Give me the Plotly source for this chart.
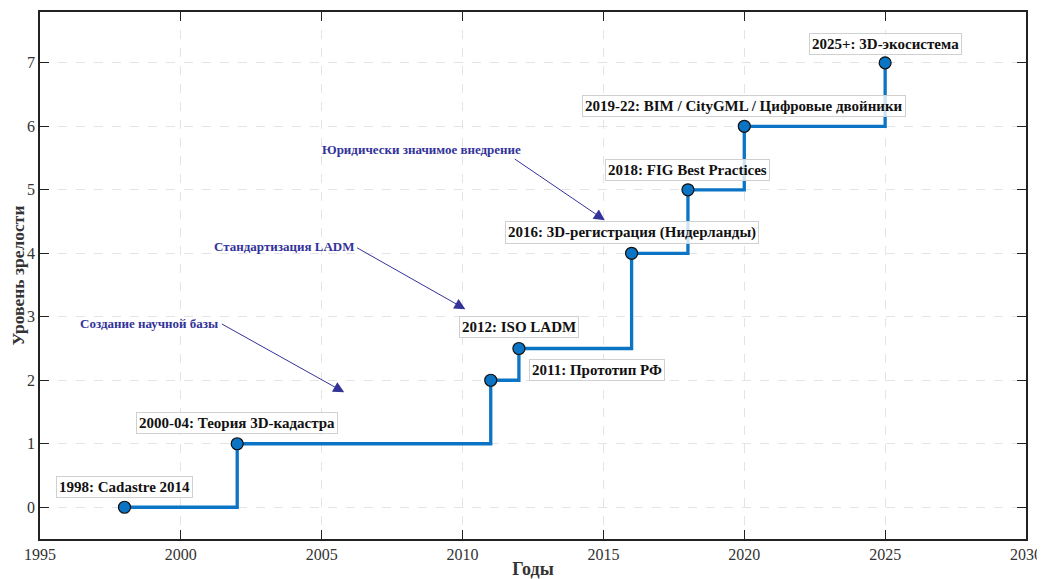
import plotly.graph_objects as go

# Data
years = [1998, 2002, 2011, 2012, 2016, 2018, 2020, 2025]
levels = [0, 1, 2, 2.5, 4, 5, 6, 7]
labels = ["1998: Cadastre 2014", "2000-04: Теория 3D-кадастра", "2011: Прототип РФ",
          "2012: ISO LADM", "2016: 3D-регистрация (Нидерланды)", "2018: FIG Best Practices",
          "2019-22: BIM / CityGML / Цифровые двойники", "2025+: 3D-экосистема"]
# label offsets (dx years, dy levels)
label_dx = [0, 0, 3.78, 0, 0, 0, 0, 0]
label_dy = [0.32, 0.32, 0.16, 0.34, 0.32, 0.31, 0.32, 0.30]

phase_texts = ["Создание научной базы", "Стандартизация LADM", "Юридически значимое внедрение"]
phase_tail_x = [2001.4, 2006.2, 2011.8]
phase_tail_y = [2.9, 4.1, 5.5]
phase_text_right_x = [2001.4, 2006.2, 2012.15]
phase_text_y = [2.9, 4.11, 5.64]
phase_head_x = [2005.8, 2010.1, 2015.05]
phase_head_y = [1.81, 3.12, 4.52]

x_ticks = [1995, 2000, 2005, 2010, 2015, 2020, 2025, 2030]
y_ticks = [0, 1, 2, 3, 4, 5, 6, 7]

FONT = "Liberation Serif"
BLUE = "#0b74c4"
PHASE_COLOR = "#33339a"

fig = go.Figure()
fig.add_trace(go.Scatter(
    x=years, y=levels, mode="lines+markers", line_shape="hv",
    line=dict(color=BLUE, width=3.3),
    marker=dict(size=12, color=BLUE, line=dict(color="#111111", width=1.2)),
    showlegend=False, hoverinfo="skip"))

for yr, lv, lab, dx, dy in zip(years, levels, labels, label_dx, label_dy):
    fig.add_annotation(x=yr + dx, y=lv + dy, text="<b>" + lab + "</b>", showarrow=False,
                       font=dict(family=FONT, size=15, color="#111111"),
                       bgcolor="rgba(255,255,255,0.8)", bordercolor="#d0d0d0",
                       borderwidth=1, borderpad=2, xanchor="center", yanchor="middle")

for t, tx, ty, rx, txy, hx, hy in zip(phase_texts, phase_tail_x, phase_tail_y,
                                       phase_text_right_x, phase_text_y, phase_head_x, phase_head_y):
    fig.add_annotation(x=hx, y=hy, ax=tx, ay=ty, axref="x", ayref="y", xref="x", yref="y",
                       text="", showarrow=True, arrowhead=2, arrowsize=2.2,
                       arrowwidth=1, arrowcolor=PHASE_COLOR)
    fig.add_annotation(x=rx, y=txy, xref="x", yref="y", text="<b>" + t + "</b>",
                       showarrow=False, xanchor="right", yanchor="middle",
                       font=dict(family=FONT, size=13, color=PHASE_COLOR))

axis_common = dict(showline=True, linecolor="#222222", linewidth=1.5, mirror="allticks",
                   ticks="inside", ticklen=9, tickwidth=1.2, tickcolor="#222222",
                   showgrid=True, gridcolor="#e4e4e4", griddash="dash", gridwidth=1,
                   zeroline=False, automargin=False,
                   tickfont=dict(family=FONT, size=16, color="#333333"))

fig.update_xaxes(range=[1995, 2030], tickvals=x_ticks, ticktext=[str(v) for v in x_ticks],
                 title=dict(text="<b>Годы</b>", font=dict(family=FONT, size=18, color="#333333"), standoff=5),
                 **axis_common)
fig.update_yaxes(range=[-0.5, 7.8], tickvals=y_ticks, ticktext=[str(v) for v in y_ticks],
                 title=dict(text="<b>Уровень зрелости</b>", font=dict(family=FONT, size=17.5, color="#333333"), standoff=2),
                 **axis_common)

# the page body adds an 8px offset, so the figure is slightly smaller than the window
fig.update_layout(width=1037, height=571, margin=dict(l=32, r=19, t=4, b=40),
                  plot_bgcolor="white", paper_bgcolor="white",
                  font=dict(family=FONT))

fig.write_html("out.html")
